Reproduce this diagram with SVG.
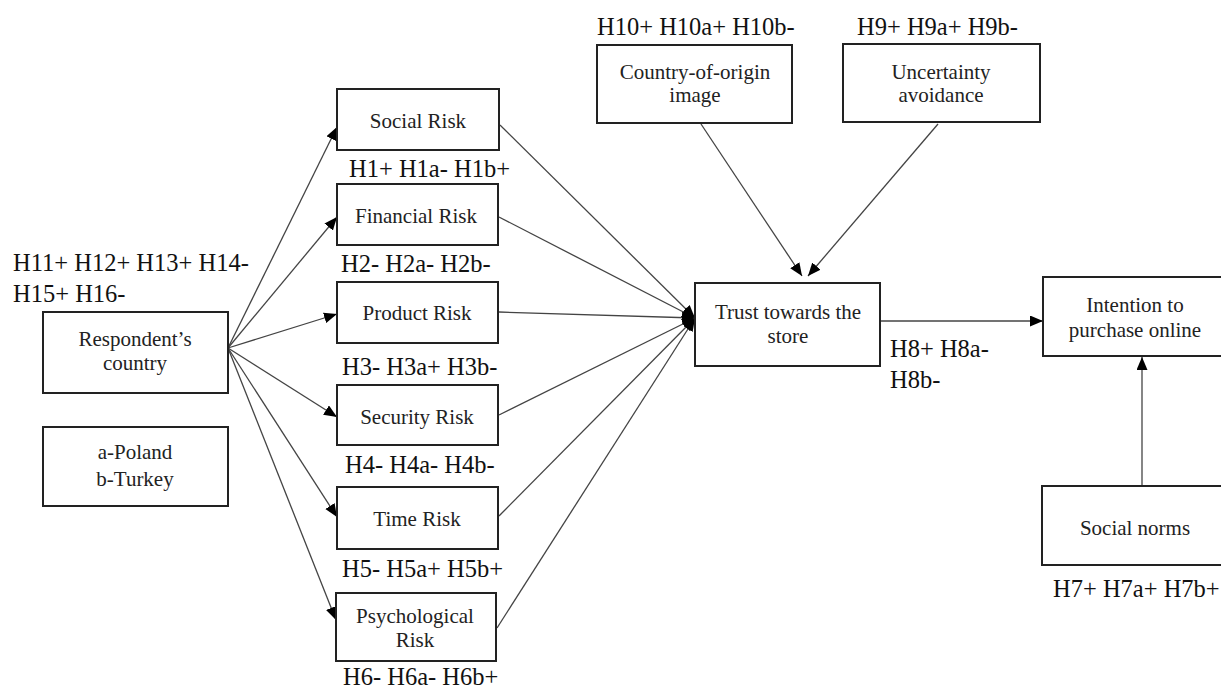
<svg xmlns="http://www.w3.org/2000/svg" width="1221" height="690" viewBox="0 0 1221 690">
<style>
.box{fill:#fff;stroke:#222;stroke-width:2}
.t{font-family:'Liberation Serif','DejaVu Serif',serif;font-size:21px;fill:#222;text-anchor:middle}
.h{font-family:'Liberation Serif','DejaVu Serif',serif;font-size:24.5px;fill:#111}
.c{stroke:#444;stroke-width:1.3;fill:none;marker-end:url(#ah)}
</style>
<defs>
<marker id="ah" markerUnits="userSpaceOnUse" markerWidth="14" markerHeight="12" refX="13" refY="5.5" orient="auto">
<path d="M0,0 L13,5.5 L0,11 z" fill="#000"/>
</marker>
</defs>
<rect width="1221" height="690" fill="#fff"/>
<g id="connectors">
<line class="c" x1="228" y1="348" x2="337" y2="127"/>
<line class="c" x1="228" y1="348" x2="337" y2="217"/>
<line class="c" x1="228" y1="348" x2="337" y2="314"/>
<line class="c" x1="228" y1="348" x2="337" y2="417"/>
<line class="c" x1="228" y1="348" x2="337" y2="517"/>
<line class="c" x1="228" y1="348" x2="336" y2="620"/>
<line class="c" x1="500" y1="125" x2="695" y2="318"/>
<line class="c" x1="499" y1="217" x2="695" y2="318"/>
<line class="c" x1="499" y1="312" x2="695" y2="318"/>
<line class="c" x1="499" y1="415" x2="695" y2="318"/>
<line class="c" x1="499" y1="516" x2="695" y2="318"/>
<line class="c" x1="497" y1="628" x2="695" y2="318"/>
<line class="c" x1="701" y1="124" x2="802" y2="276"/>
<line class="c" x1="938" y1="124" x2="808" y2="276"/>
<line class="c" x1="880" y1="321" x2="1043" y2="321"/>
<line class="c" x1="1142" y1="486" x2="1142" y2="357"/>
</g>
<g font-family="Liberation Serif, DejaVu Serif, serif">
<g id="respondent">
<rect class="box" x="43" y="312" width="185" height="81"/>
<text class="t" x="135" y="346">Respondent’s</text>
<text class="t" x="135" y="370">country</text>
</g>
<g id="legend">
<rect class="box" x="43" y="427" width="185" height="79"/>
<text class="t" x="135" y="459">a-Poland</text>
<text class="t" x="135" y="486">b-Turkey</text>
</g>
<g id="social-risk">
<rect class="box" x="337" y="89" width="162" height="61"/>
<text class="t" x="418" y="128">Social Risk</text>
</g>
<g id="financial-risk">
<rect class="box" x="337" y="184" width="161" height="61"/>
<text class="t" x="416" y="223">Financial Risk</text>
</g>
<g id="product-risk">
<rect class="box" x="337" y="282" width="161" height="61"/>
<text class="t" x="417" y="320">Product Risk</text>
</g>
<g id="security-risk">
<rect class="box" x="337" y="385" width="161" height="60"/>
<text class="t" x="417" y="424">Security Risk</text>
</g>
<g id="time-risk">
<rect class="box" x="337" y="487" width="161" height="62"/>
<text class="t" x="417" y="526">Time Risk</text>
</g>
<g id="psychological-risk">
<rect class="box" x="336" y="593" width="160" height="68"/>
<text class="t" x="415" y="623">Psychological</text>
<text class="t" x="415" y="647">Risk</text>
</g>
<g id="country-of-origin">
<rect class="box" x="597" y="45" width="195" height="78"/>
<text class="t" x="695" y="79">Country-of-origin</text>
<text class="t" x="695" y="102">image</text>
</g>
<g id="uncertainty">
<rect class="box" x="843" y="44" width="197" height="78"/>
<text class="t" x="941" y="79">Uncertainty</text>
<text class="t" x="941" y="102">avoidance</text>
</g>
<g id="trust">
<rect class="box" x="695" y="283" width="185" height="83"/>
<text class="t" x="788" y="319">Trust towards the</text>
<text class="t" x="788" y="343">store</text>
</g>
<g id="intention">
<rect class="box" x="1043" y="277" width="190" height="79"/>
<text class="t" x="1135" y="312">Intention to</text>
<text class="t" x="1135" y="337">purchase online</text>
</g>
<g id="social-norms">
<rect class="box" x="1042" y="486" width="190" height="79"/>
<text class="t" x="1135" y="535">Social norms</text>
</g>
<g id="labels">
<text class="h" x="13" y="271">H11+ H12+ H13+ H14-</text>
<text class="h" x="13" y="302">H15+ H16-</text>
<text class="h" x="349" y="177">H1+ H1a- H1b+</text>
<text class="h" x="341" y="272">H2- H2a- H2b-</text>
<text class="h" x="342" y="375">H3- H3a+ H3b-</text>
<text class="h" x="345" y="473">H4- H4a- H4b-</text>
<text class="h" x="342" y="577">H5- H5a+ H5b+</text>
<text class="h" x="343" y="685">H6- H6a- H6b+</text>
<text class="h" x="597" y="35">H10+ H10a+ H10b-</text>
<text class="h" x="857" y="35">H9+ H9a+ H9b-</text>
<text class="h" x="890" y="357">H8+ H8a-</text>
<text class="h" x="890" y="388">H8b-</text>
<text class="h" x="1053" y="597">H7+ H7a+ H7b+</text>
</g>
</g>
</svg>
